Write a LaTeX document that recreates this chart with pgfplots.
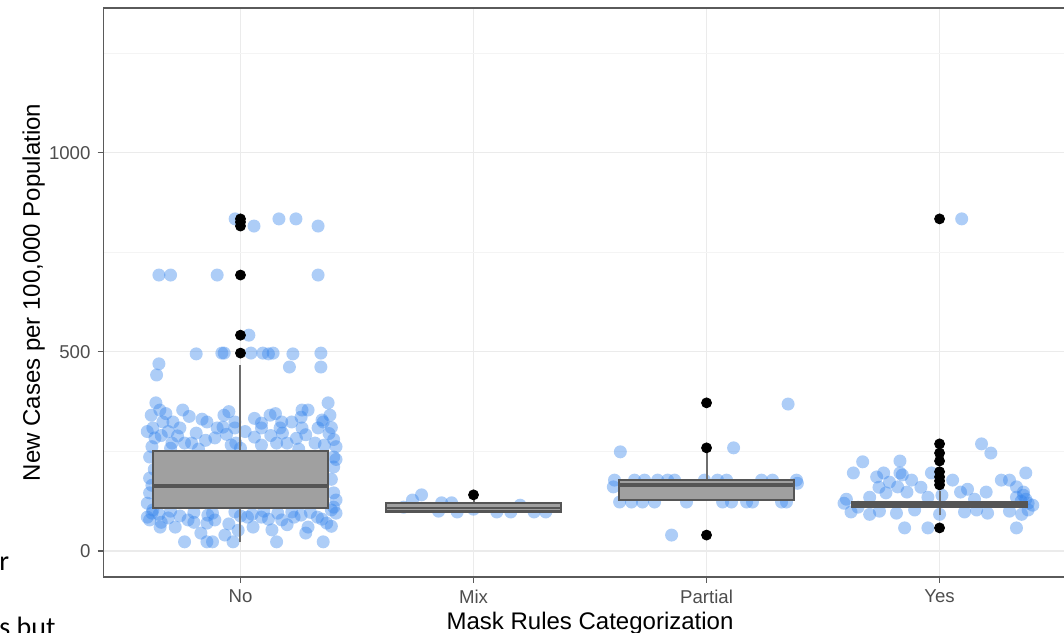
\documentclass[border=0pt]{standalone}
\usepackage{fontspec}
\setmainfont{Liberation Sans}
\newfontfamily\carlito{Carlito}
\usepackage{pgfplots}
\pgfplotsset{compat=1.18}

\definecolor{panelline}{HTML}{5A5A5A}
\definecolor{gridmaj}{HTML}{EBEBEB}
\definecolor{gridmin}{HTML}{F4F4F4}
\definecolor{ticktext}{HTML}{4D4D4D}
\definecolor{boxfill}{HTML}{A0A0A0}
\definecolor{boxline}{HTML}{555555}
\definecolor{ptblue}{HTML}{3282EB}

\begin{document}
\begin{tikzpicture}
\begin{axis}[
  at={(51.5pt,27.5pt)}, anchor=south west,
  scale only axis, width=480.5pt, height=284.5pt,
  xmin=0.41, xmax=4.534, ymin=-65.3, ymax=1363.6,
  clip marker paths=true,
  xtick={1,2,3,4}, xticklabels={No,Mix,Partial,Yes},
  ytick={0,500,1000}, minor ytick={250,750,1250},
  xmajorgrids, ymajorgrids, yminorgrids,
  major grid style={gridmaj, line width=0.6pt},
  minor grid style={gridmin, line width=0.5pt},
  tick pos=left, tick align=outside,
  major tick length=2.75pt, minor tick length=0pt,
  tick style={panelline, line width=0.55pt},
  axis line style={draw=none},
  /pgf/number format/assume math mode=true,
  /pgf/number format/1000 sep={},
  ticklabel style={font=\fontsize{9.3}{11}\selectfont, text=ticktext},
  xlabel={Mask Rules Categorization},
  ylabel={New Cases per 100,000 Population},
  label style={font=\fontsize{12}{14}\selectfont, text=black},
  xlabel style={at={(axis description cs:0.5068,-0.0914)}, anchor=base},
  ylabel style={at={(axis description cs:-0.0656,0.5)}, anchor=base},
  boxbody/.style={fill=boxfill, draw=boxline, line width=1.1pt},
  whisk/.style={boxline!85, line width=1pt},
  med/.style={boxline, line width=1.7pt},
  outl/.style={only marks, mark=*, mark size=2.5pt, black, mark options={draw=black, fill=black}},
]

% jittered observations
\addplot[only marks, mark=*, mark size=3.25pt, ptblue,
  mark options={draw opacity=0, fill=ptblue, fill opacity=0.4}] coordinates {
  % No
  (0.977,834)(1.058,816)(1.165,834)(1.238,834)(1.333,816)
  (0.65,693)(0.70,693)(0.90,693)(1.333,693)
  (1.036,542)
  (0.81,495)(0.92,497)(0.93,497)(1.045,497)(1.096,497)(1.12,495)(1.14,497)(1.225,495)(1.345,497)
  (0.65,470)(0.64,442)(1.21,462)(1.345,462)
  (0.637,372)(0.654,354)(0.617,341)(0.752,354)(0.835,331)(0.856,324)(0.929,341)(0.976,324)
  (1.127,341)(1.264,354)(1.29,354)(1.376,372)(1.384,341)(1.35,329)
  (0.667,324)(0.71,324)(0.624,309)(0.74,309)(0.90,309)(0.925,311)(0.976,309)(1.09,321)
  (1.09,309)(1.177,324)(1.22,324)(1.17,309)(1.264,309)(1.333,309)(1.355,324)
  (0.633,284)(0.706,271)(0.76,271)(0.79,271)(0.89,284)(0.96,266)(0.98,271)(1.09,266)
  (1.155,271)(1.20,271)(1.32,271)(1.36,266)
  (0.70,258)(0.82,256)(1.0,258)(1.25,256)
  (0.61,236)(0.61,183)(1.40,236)(1.40,211)(1.40,146)(1.41,128)(0.61,146)(0.63,205)
  (0.62,165)(1.39,180)(1.41,230)(0.60,120)(1.40,110)
  (0.624,103)(0.88,95)(0.976,98)(1.22,98)(1.39,103)(0.70,100)(0.80,97)(1.10,100)(1.30,97)
  (0.61,78)(0.655,60)(0.69,83)(0.72,60)(0.775,78)(0.83,45)(0.856,70)(0.89,78)(0.933,40)
  (0.76,23)(0.856,23)(0.88,23)(0.968,23)(1.054,60)(1.09,85)(1.135,53)(1.155,23)(1.177,78)
  (1.23,85)(1.29,60)(1.33,85)(1.355,23)(1.37,70)(1.41,95)(1.03,85)(0.60,85)
  (0.60,300)(0.62,262)(0.66,290)(0.69,300)(0.73,289)(0.81,296)(0.85,278)(0.94,293)
  (1.02,300)(1.06,286)(1.13,290)(1.18,296)(1.24,283)(1.28,292)(1.38,295)(1.41,262)
  (1.39,310)(1.40,280)(1.26,336)(1.06,333)(0.78,338)(0.68,345)(1.15,345)(0.95,350)
  (0.65,92)(0.74,88)(0.80,72)(0.95,68)(1.00,88)(1.05,92)(1.12,80)(1.20,66)(1.26,90)
  (1.35,80)(1.39,62)(0.62,95)(0.66,72)(0.86,90)(0.99,52)(1.28,45)(1.16,95)
  % Mix
  (1.738,128)(1.777,141)(1.863,121)(1.906,121)(1.93,98)(2.10,98)(2.16,98)(2.26,98)(2.31,98)
  (1.70,110)(2.0,105)(2.2,115)(1.85,100)
  % Partial
  (2.63,249)(3.116,259)(3.35,369)(2.85,40)
  (2.605,178)(2.691,178)(2.734,178)(2.79,178)(2.833,178)(2.863,178)(2.991,178)(3.047,178)
  (3.086,178)(3.236,178)(3.283,178)(3.386,178)
  (2.627,123)(2.678,123)(2.725,123)(2.777,123)(2.914,123)(3.069,123)(3.107,123)(3.172,123)
  (3.197,123)(3.322,123)(3.343,123)(2.60,161)(3.39,170)
  % Yes
  (4.095,834)
  (4.18,269)(4.22,246)(3.67,224)(3.83,226)(3.63,196)(3.73,186)(3.76,196)(3.785,173)
  (3.83,196)(3.84,191)(3.88,178)(3.82,161)(3.965,196)(4.056,178)(3.77,146)(3.86,148)
  (4.09,148)(4.2,148)(4.265,178)(4.30,178)(4.37,196)(4.33,161)(4.36,148)
  (3.85,58)(3.95,58)(4.33,58)(3.59,120)(4.38,120)(4.38,103)
  (3.62,98)(3.70,92)(3.742,100)(3.815,95)(3.893,103)(4.0,92)(4.107,98)(4.159,103)
  (4.206,95)(4.30,100)(4.352,92)
  (3.60,130)(3.65,110)(4.37,130)(4.40,115)(4.35,125)(4.33,135)(4.36,140)(3.70,135)
  (3.95,135)(4.15,130)(3.92,160)(4.01,140)(3.74,160)(4.12,155)
};

% No: whiskers 23 / 467, box 108-251, median 163
\addplot[whisk] coordinates {(1,23)(1,108)};
\addplot[whisk] coordinates {(1,251)(1,467)};
\addplot[boxbody] coordinates {(0.625,108)(1.375,108)(1.375,251)(0.625,251)} -- cycle;
\addplot[med] coordinates {(0.625,163)(1.375,163)};
\addplot[outl] coordinates {(1,834)(1,826)(1,816)(1,693)(1,542)(1,497)};

% Mix: whiskers 98 / 128, box 99-120, median 108
\addplot[whisk] coordinates {(2,120)(2,128)};
\addplot[boxbody] coordinates {(1.625,99)(2.375,99)(2.375,120)(1.625,120)} -- cycle;
\addplot[boxline, line width=1.2pt] coordinates {(1.625,108)(2.375,108)};
\addplot[outl] coordinates {(2,141)};

% Partial: whiskers 125 / 255, box 128-178, median 166
\addplot[whisk] coordinates {(3,178)(3,255)};
\addplot[boxbody] coordinates {(2.625,128)(3.375,128)(3.375,178)(2.625,178)} -- cycle;
\addplot[med] coordinates {(2.625,166)(3.375,166)};
\addplot[outl] coordinates {(3,372)(3,259)(3,40)};

% Yes: whiskers 90 / 150, box 110-124, median 117
\addplot[whisk] coordinates {(4,90)(4,150)};
\addplot[boxbody] coordinates {(3.625,110)(4.375,110)(4.375,124)(3.625,124)} -- cycle;
\addplot[med] coordinates {(3.625,117)(4.375,117)};
\addplot[outl] coordinates {(4,834)(4,269)(4,246)(4,226)(4,199)(4,186)(4,176)(4,166)(4,58)};

% panel border: the right side lies beyond the cropped edge
\draw[panelline, line width=0.7pt] (rel axis cs:1,1) -- (rel axis cs:0,1)
  -- (rel axis cs:0,0) -- (rel axis cs:1,0);
\end{axis}

% fragments of the surrounding page text
\node[anchor=base west, inner sep=0pt, font=\carlito\fontsize{14}{16}\selectfont]
  at (-0.5pt,31pt) {r};
\node[anchor=base west, inner sep=0pt, font=\carlito\fontsize{14}{16}\selectfont]
  at (-0.5pt,-2pt) {s but};

\pgfresetboundingbox
\path[use as bounding box] (0,0) rectangle (532pt,316pt);
\end{tikzpicture}
\end{document}
